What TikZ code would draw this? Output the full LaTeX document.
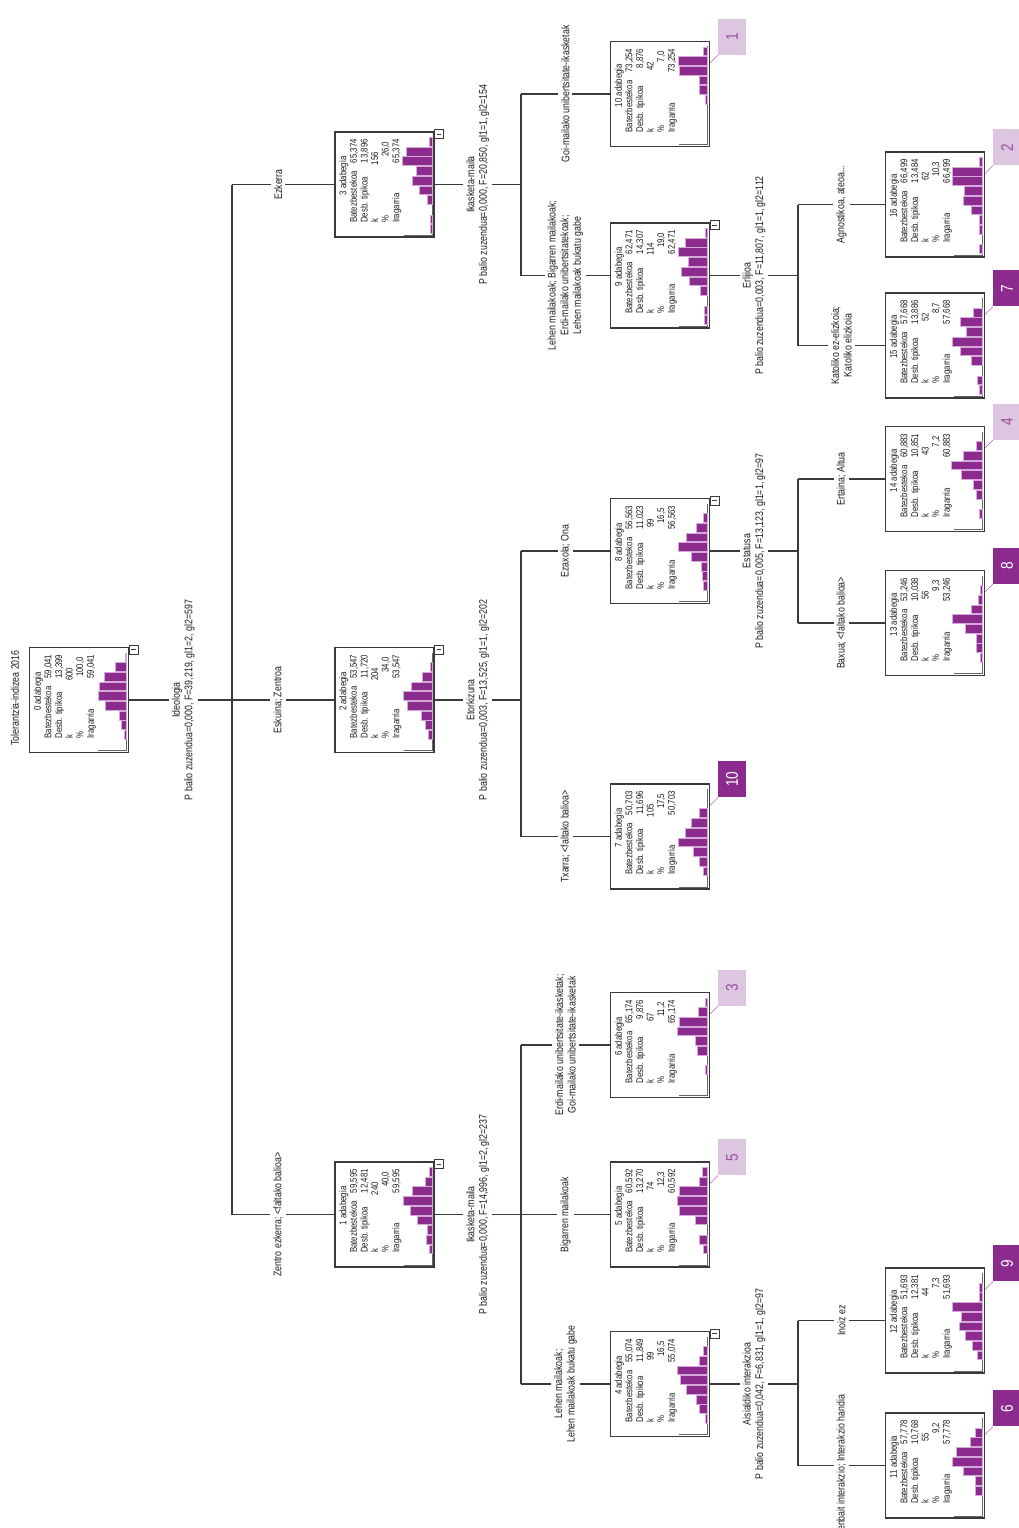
\documentclass[tikz,border=0pt]{standalone}
\usepackage{fontspec}
\setmainfont{Liberation Sans}[FakeStretch=0.8]
\definecolor{morea}{HTML}{8B2B8E}
\definecolor{morebarra}{HTML}{D5A9D9}
\definecolor{moreargi}{HTML}{DCC6E0}
\definecolor{moretestu}{HTML}{9B4FA1}
\definecolor{lerroa}{HTML}{3A3A3A}
\definecolor{testua}{HTML}{1E1E1E}
\newcommand{\adabegia}[9]{%
  \node[kutxa] (#1) at (#2,#3) {};
  \draw[ardatza] (#2+47.5,#3-47.5) -- (#2+47.5,#3+50.5) -- (#2+19,#3+50.5);
  \foreach \luz [count=\n from 0] in {#9}{%
    \ifdim\luz pt>0pt
      \draw[barra] (#2+47.5-\luz,#3+40.1-9.7*\n) rectangle (#2+47.5,#3+48.9-9.7*\n);
    \fi}
  \node[idatzi, anchor=base] (#1i) at (#2-38.2,#3-8.5) {#4 adabegia};
  \node[idatzi, anchor=base west] (#1b) at (#2-27.6,#3+38.5) {Batezbestekoa};
  \node[idatzi, anchor=base west] (#1d) at (#2-17,#3+38.5) {Desb. tipikoa};
  \node[idatzi, anchor=base west] (#1k) at (#2-6.4,#3+38.5) {k};
  \node[idatzi, anchor=base west] (#1p) at (#2+4.2,#3+38.5) {\%};
  \node[idatzi, anchor=base west] (#1r) at (#2+14.8,#3+38.5) {Iragarria};
  \node[idatzi, anchor=base east] (#1bz) at (#2-27.6,#3-45.5) {#5};
  \node[idatzi, anchor=base east] (#1dz) at (#2-17,#3-45.5) {#6};
  \node[idatzi, anchor=base east] (#1kz) at (#2-6.4,#3-32.5) {#7};
  \node[idatzi, anchor=base east] (#1pz) at (#2+4.2,#3-43) {#8};
  \node[idatzi, anchor=base east] (#1rz) at (#2+14.8,#3-45.5) {#5};
}
\newcommand{\itxi}[1]{%
  \node[itxikutxa] (#1m) at ([xshift=4.5pt,yshift=-2.5pt]#1.north east) {};
  \draw[lerroa, line width=0.8pt] ([xshift=-2.2pt]#1m.center) -- ([xshift=2.2pt]#1m.center);
}
\newcommand{\etiketa}[3]{%
  \node[#3] (#1e) at ([xshift=22pt,yshift=4pt]#1.north east) {#2};
  \draw[gezia] ([yshift=-22pt]#1.north east) -- (#1e.north west);
}
\begin{document}
\begin{tikzpicture}[x=1pt, y=-1pt,
  kutxa/.style={draw=lerroa, line width=1.2pt, fill=white, minimum width=99pt,
    minimum height=105pt, inner sep=0pt},
  idatzi/.style={rotate=90, inner sep=0pt, text=testua,
    font=\fontsize{9.8}{10}\selectfont},
  barra/.style={fill=morea, draw=morebarra, line width=0.5pt},
  ardatza/.style={draw=gray!80!black, line width=0.8pt},
  lotura/.style={draw=lerroa, line width=1.1pt},
  banaketa/.style={rotate=90, fill=white, inner sep=3pt, align=center,
    text=testua, font=\fontsize{11}{12.6}\selectfont},
  itxikutxa/.style={draw=lerroa, fill=white, line width=0.7pt,
    minimum size=9pt, inner sep=0pt},
  txartelargi/.style={rotate=90, fill=moreargi, text=moretestu,
    minimum width=36pt, minimum height=28pt, inner sep=0pt,
    font=\fontsize{17}{17}\selectfont},
  txartelilun/.style={txartelargi, fill=morea, text=white},
  gezia/.style={draw=morea!70, line width=0.6pt}]
\useasboundingbox[fill=white] (0,0) rectangle (1019,1528);
\def\bA{232}
\def\bB{521}
\def\bC{798}
\node[rotate=90, text=testua, font=\fontsize{11}{12.6}\selectfont]
  (izenburua) at (15,698) {Tolerantzia-indizea 2016};
\adabegia{n0}{79}{700}{0}{59,041}{13,399}{600}{100,0}{0,2.5,5,7,21,28,27,22,11,1}
\adabegia{n3}{384.5}{184.5}{3}{65,374}{13,896}{156}{26,0}{2,2,0,5,13,20,16,30,26,3}
\adabegia{n2}{384.5}{700}{2}{53,547}{11,720}{204}{34,0}{0,4,7,11,25,29,21,10,2,0}
\adabegia{n1}{384.5}{1214.5}{1}{59,595}{12,481}{240}{40,0}{0,3,6,5,15,22,29,20,7,3}
\adabegia{n10}{660}{94}{10}{73,254}{8,876}{42}{7,0}{0,0,0,0,2,8,8,28,29,4}
\adabegia{n9}{660}{275.5}{9}{62,471}{14,307}{114}{19,0}{3,3,0,7,18,26,19,29,22,2}
\adabegia{n8}{660}{551}{8}{56,563}{11,023}{99}{16,5}{0,4,5,6.5,16,29,21,11,4,0}
\adabegia{n7}{660}{836.5}{7}{50,703}{11,696}{105}{17,5}{0,4,8,14,29,22,16,8,0,0}
\adabegia{n6}{660}{1045}{6}{65,174}{9,876}{67}{11,2}{0,0,2,0,10,12,30,28,9,2}
\adabegia{n5}{660}{1214.5}{5}{60,592}{13,270}{74}{12,3}{0,4,8,0,12,28,30,28,8,5}
\adabegia{n4}{660}{1384}{4}{55,074}{11,849}{99}{16,5}{0,2,8,11,21,27,30,8,4,0}
\adabegia{n16}{935}{204.5}{16}{66,499}{13,484}{62}{10,3}{3,0,3,3,11,19,18,30,30,3}
\adabegia{n15}{935}{345.5}{15}{57,668}{13,886}{52}{8,7}{3,5,0,11,22,30,16,22,9,0}
\adabegia{n14}{935}{479}{14}{60,883}{10,851}{43}{7,2}{0,3,0,6,9,21,31,19,6,0}
\adabegia{n13}{935}{623}{13}{53,246}{10,038}{56}{9,3}{0,2,6,6,17,30,11,4,2,0}
\adabegia{n12}{935}{1320.5}{12}{51,693}{12,381}{44}{7,3}{0,5,10,17,23,21,30,3,3,0}
\adabegia{n11}{935}{1465.5}{11}{57,778}{10,768}{55}{9,2}{0,0,7,7,19,30,26,12,7,0}
\itxi{n0}
\itxi{n3}
\itxi{n2}
\itxi{n1}
\itxi{n9}
\itxi{n8}
\itxi{n4}
\etiketa{n10}{1}{txartelargi}
\etiketa{n16}{2}{txartelargi}
\etiketa{n6}{3}{txartelargi}
\etiketa{n14}{4}{txartelargi}
\etiketa{n5}{5}{txartelargi}
\etiketa{n11}{6}{txartelilun}
\etiketa{n15}{7}{txartelilun}
\etiketa{n13}{8}{txartelilun}
\etiketa{n12}{9}{txartelilun}
\etiketa{n7}{10}{txartelilun}
\coordinate (b0) at (\bA,700);
\coordinate (b3) at (\bB,184.5);
\coordinate (b2) at (\bB,700);
\coordinate (b1) at (\bB,1214.5);
\coordinate (b9) at (\bC,275.5);
\coordinate (b8) at (\bC,551);
\coordinate (b4) at (\bC,1384);
\draw[lotura] (n0.east) -- node[banaketa, pos=0.527] (s0)
  {Ideologia\\P balio zuzendua=0,000, F=39,219, gl1=2, gl2=597} (b0);
\draw[lotura] (b0 |- n3) -- (b0 |- n1);
\draw[lotura] (b0 |- n3) -- node[banaketa, pos=0.45] (e3) {Ezkerra} (n3.west);
\draw[lotura] (b0) -- node[banaketa, pos=0.45] (e2) {Eskuina; Zentroa} (n2.west);
\draw[lotura] (b0 |- n1) -- node[banaketa, pos=0.45] (e1)
  {Zentro ezkerra; <faltako balioa>} (n1.west);
\draw[lotura] (n3.east) -- node[banaketa, midway] (s3)
  {Ikasketa-maila\\P balio zuzendua=0,000, F=20,850, gl1=1, gl2=154} (b3);
\draw[lotura] (b3 |- n10) -- (b3 |- n9);
\draw[lotura] (b3 |- n10) -- node[banaketa, midway] (e10)
  {Goi-mailako unibertsitate-ikasketak} (n10.west);
\draw[lotura] (b3 |- n9) -- node[banaketa, midway] (e9)
  {Lehen mailakoak; Bigarren mailakoak;\\Erdi-mailako unibertsitatekoak;\\Lehen mailakoak bukatu gabe} (n9.west);
\draw[lotura] (n2.east) -- node[banaketa, midway] (s2)
  {Etorkizuna\\P balio zuzendua=0,003, F=13,525, gl1=1, gl2=202} (b2);
\draw[lotura] (b2 |- n8) -- (b2 |- n7);
\draw[lotura] (b2 |- n8) -- node[banaketa, midway] (e8) {Ezaxola; Ona} (n8.west);
\draw[lotura] (b2 |- n7) -- node[banaketa, midway] (e7)
  {Txarra; <faltako balioa>} (n7.west);
\draw[lotura] (n1.east) -- node[banaketa, midway] (s1)
  {Ikasketa-maila\\P balio zuzendua=0,000, F=14,996, gl1=2, gl2=237} (b1);
\draw[lotura] (b1 |- n6) -- (b1 |- n4);
\draw[lotura] (b1 |- n6) -- node[banaketa, midway] (e6)
  {Erdi-mailako unibertsitate-ikasketak;\\Goi-mailako unibertsitate-ikasketak} (n6.west);
\draw[lotura] (b1) -- node[banaketa, midway] (e5) {Bigarren mailakoak} (n5.west);
\draw[lotura] (b1 |- n4) -- node[banaketa, midway] (e4)
  {Lehen mailakoak;\\Lehen mailakoak bukatu gabe} (n4.west);
\draw[lotura] (n9.east) -- node[banaketa, midway] (s9)
  {Erlijioa\\P balio zuzendua=0,003, F=11,807, gl1=1, gl2=112} (b9);
\draw[lotura] (b9 |- n16) -- (b9 |- n15);
\draw[lotura] (b9 |- n16) -- node[banaketa, midway] (e16)
  {Agnostikoa, ateoa...} (n16.west);
\draw[lotura] (b9 |- n15) -- node[banaketa, midway] (e15)
  {Katoliko ez-elizkoia;\\Katoliko elizkoia} (n15.west);
\draw[lotura] (n8.east) -- node[banaketa, midway] (s8)
  {Estatusa\\P balio zuzendua=0,005, F=13,123, gl1=1, gl2=97} (b8);
\draw[lotura] (b8 |- n14) -- (b8 |- n13);
\draw[lotura] (b8 |- n14) -- node[banaketa, midway] (e14) {Ertaina; Altua} (n14.west);
\draw[lotura] (b8 |- n13) -- node[banaketa, midway] (e13)
  {Baxua; <faltako balioa>} (n13.west);
\draw[lotura] (n4.east) -- node[banaketa, midway] (s4)
  {Aisialdiko interakzioa\\P balio zuzendua=0,042, F=6,831, gl1=1, gl2=97} (b4);
\draw[lotura] (b4 |- n12) -- (b4 |- n11);
\draw[lotura] (b4 |- n12) -- node[banaketa, midway] (e12) {Inoiz ez} (n12.west);
\draw[lotura] (b4 |- n11) -- node[banaketa, midway] (e11)
  {Zenbait interakzio; Interakzio handia} (n11.west);
\end{tikzpicture}
\end{document}
